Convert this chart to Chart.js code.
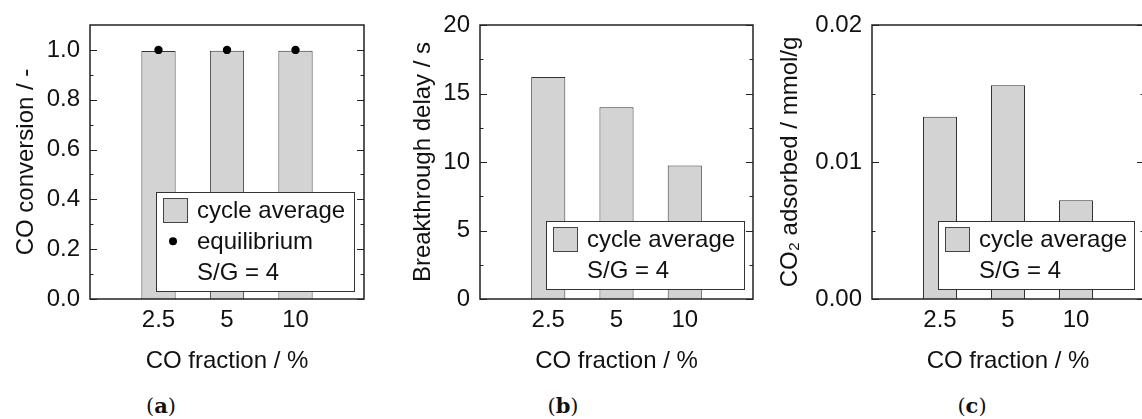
<!DOCTYPE html>
<html>
<head>
<meta charset="utf-8">
<script src="https://cdn.jsdelivr.net/npm/chart.js@4.4.1/dist/chart.umd.min.js"></script>
<style>
  html, body { margin: 0; padding: 0; background: #fff; }
  #wrap { position: relative; width: 1142px; height: 419px; overflow: hidden; background: #fff; }
  canvas { position: absolute; top: 0; }
  .cap { position: absolute; top: 393px; font-family: "DejaVu Serif", "Liberation Serif", serif; font-size: 21px; line-height: 26px; color: #111; transform: translateX(-50%); white-space: nowrap; }
  .cap b { font-weight: bold; }
</style>
</head>
<body>
<div id="wrap">
  <canvas id="ca" width="380" height="380" style="left:0px;width:380px;height:380px"></canvas>
  <canvas id="cb" width="380" height="380" style="left:380px;width:380px;height:380px"></canvas>
  <canvas id="cc" width="400" height="380" style="left:760px;width:400px;height:380px"></canvas>
  <div class="cap" style="left:161px">(<b>a</b>)</div>
  <div class="cap" style="left:563px">(<b>b</b>)</div>
  <div class="cap" style="left:972px">(<b>c</b>)</div>
</div>
<script>
// ---- data ----
const categories = ['2.5', '5', '10'];
const conversionAverage = [0.996, 0.997, 0.997];
const conversionEquilibrium = [1.0, 1.0, 1.0];
const breakthroughDelay = [16.2, 14.0, 9.75];
const co2Adsorbed = [0.0133, 0.0156, 0.0072];

const yTicksA = [0, 0.2, 0.4, 0.6, 0.8, 1.0];
const yLabelsA = ['0.0', '0.2', '0.4', '0.6', '0.8', '1.0'];
const yMinorA = [0.1, 0.3, 0.5, 0.7, 0.9];

const yTicksB = [0, 5, 10, 15, 20];
const yLabelsB = ['0', '5', '10', '15', '20'];
const yMinorB = [2.5, 7.5, 12.5, 17.5];

const yTicksC = [0, 0.01, 0.02];
const yLabelsC = ['0.00', '0.01', '0.02'];
const yMinorC = [0.005, 0.015];

// ---- helpers ----
const FONT = 'Liberation Sans, Arial, sans-serif';
const FS = 24;
const TXT = '#111';
const BAR_FILL = '#d3d3d3';
const BAR_EDGE = '#333';
const padded = arr => [null, ...arr, null];
const xLabels = ['', ...categories, ''];

const framePlugin = {
  id: 'frame',
  afterDatasetsDraw(chart, args, o) {
    const ctx = chart.ctx, a = chart.chartArea, y = chart.scales.y;
    ctx.save();
    // legend
    const rows = o.legend.length, rowH = 31;
    const lx0 = a.left + 66, lx1 = a.right - o.legendRightGap;
    const ly1 = a.bottom - o.legendBottomGap, ly0 = ly1 - (rows * rowH + 6);
    ctx.fillStyle = '#fff';
    ctx.fillRect(lx0, ly0, lx1 - lx0, ly1 - ly0);
    ctx.strokeStyle = '#333';
    ctx.lineWidth = 1;
    ctx.strokeRect(Math.round(lx0) + 0.5, Math.round(ly0) + 0.5, Math.round(lx1 - lx0), Math.round(ly1 - ly0));
    ctx.font = FS + 'px ' + FONT;
    ctx.textBaseline = 'middle';
    ctx.textAlign = 'left';
    o.legend.forEach((it, i) => {
      const cy = ly0 + 18 + i * rowH;
      if (it.type === 'bar') {
        ctx.fillStyle = BAR_FILL;
        ctx.fillRect(lx0 + 7, cy - 12, 24, 24);
        ctx.strokeStyle = '#444';
        ctx.lineWidth = 1;
        ctx.strokeRect(Math.round(lx0 + 7) + 0.5, Math.round(cy - 12) + 0.5, 24, 24);
      } else if (it.type === 'dot') {
        ctx.fillStyle = '#000';
        ctx.beginPath();
        ctx.arc(lx0 + 17, cy, 4, 0, Math.PI * 2);
        ctx.fill();
      }
      ctx.fillStyle = TXT;
      ctx.fillText(it.text, lx0 + 41, cy + 1);
    });
    // ticks (inward, both sides)
    ctx.strokeStyle = '#222';
    ctx.lineWidth = 1.2;
    const tick = (v, len) => {
      const py = Math.round(y.getPixelForValue(v)) + 0.5;
      ctx.beginPath();
      ctx.moveTo(a.left, py); ctx.lineTo(a.left + len, py);
      ctx.moveTo(a.right, py); ctx.lineTo(a.right - len, py);
      ctx.stroke();
    };
    o.major.forEach(v => tick(v, 7));
    o.minor.forEach(v => tick(v, 3.5));
    // frame
    ctx.strokeStyle = '#222';
    ctx.lineWidth = 1.5;
    ctx.strokeRect(a.left, a.top, a.right - a.left, a.bottom - a.top);
    ctx.restore();
  }
};

function makeChart(id, c) {
  return new Chart(document.getElementById(id), {
    data: { labels: xLabels, datasets: c.datasets },
    options: {
      responsive: false,
      animation: false,
      events: [],
      layout: { padding: { top: 25, right: c.padRight, left: 0, bottom: 0 } },
      plugins: {
        legend: { display: false },
        tooltip: { enabled: false },
        frame: { legend: c.legend, major: c.yTicks, minor: c.yMinor, legendRightGap: c.legendRightGap, legendBottomGap: c.legendBottomGap }
      },
      scales: {
        x: {
          type: 'category',
          offset: false,
          grid: { display: false, drawTicks: false },
          border: { display: false },
          ticks: { font: { family: FONT, size: FS }, color: TXT, padding: 7, maxRotation: 0, autoSkip: false },
          title: { display: true, text: 'CO fraction / %', font: { family: FONT, size: FS, lineHeight: 1.2 }, color: TXT, padding: { top: 0, bottom: 4 } },
          afterFit: s => { s.height = 81; }
        },
        y: {
          type: 'linear',
          min: 0,
          max: c.yMax,
          grid: { display: false, drawTicks: false },
          border: { display: false },
          afterBuildTicks: s => { s.ticks = c.yTicks.map(v => ({ value: v })); },
          ticks: { font: { family: FONT, size: FS }, color: TXT, padding: 10, callback: (v, i) => c.yLabels[i] },
          title: { display: true, text: c.yTitle, font: { family: FONT, size: FS, lineHeight: 1.2 }, color: TXT, padding: { top: c.yTitlePad, bottom: 0 } },
          afterFit: s => { s.width = c.yWidth; }
        }
      }
    },
    plugins: [framePlugin]
  });
}

const barDs = values => ({
  type: 'bar',
  data: padded(values),
  backgroundColor: BAR_FILL,
  borderColor: BAR_EDGE,
  borderWidth: 1,
  categoryPercentage: 0.5,
  barPercentage: 1.0,
  order: 2
});

makeChart('ca', {
  datasets: [
    barDs(conversionAverage),
    { type: 'line', data: padded(conversionEquilibrium), showLine: false, pointRadius: 4.2, pointBackgroundColor: '#000', pointBorderColor: '#000', pointBorderWidth: 0, order: 1 }
  ],
  yMax: 1.1, yTicks: yTicksA, yLabels: yLabelsA, yMinor: yMinorA,
  yTitle: 'CO conversion / -', yWidth: 90, yTitlePad: 11.6, padRight: 16,
  legend: [{ type: 'bar', text: 'cycle average' }, { type: 'dot', text: 'equilibrium' }, { type: 'text', text: 'S/G = 4' }],
  legendRightGap: 10.5, legendBottomGap: 7.7
});

makeChart('cb', {
  datasets: [barDs(breakthroughDelay)],
  yMax: 20, yTicks: yTicksB, yLabels: yLabelsB, yMinor: yMinorB,
  yTitle: 'Breakthrough delay / s', yWidth: 100, yTitlePad: 29, padRight: 7,
  legend: [{ type: 'bar', text: 'cycle average' }, { type: 'text', text: 'S/G = 4' }],
  legendRightGap: 9, legendBottomGap: 10
});

makeChart('cc', {
  datasets: [barDs(co2Adsorbed)],
  yMax: 0.02, yTicks: yTicksC, yLabels: yLabelsC, yMinor: yMinorC,
  yTitle: 'CO\u2082 adsorbed / mmol/g', yWidth: 112, yTitlePad: 15.6, padRight: 16,
  legend: [{ type: 'bar', text: 'cycle average' }, { type: 'text', text: 'S/G = 4' }],
  legendRightGap: 10, legendBottomGap: 10
});
</script>
</body>
</html>
